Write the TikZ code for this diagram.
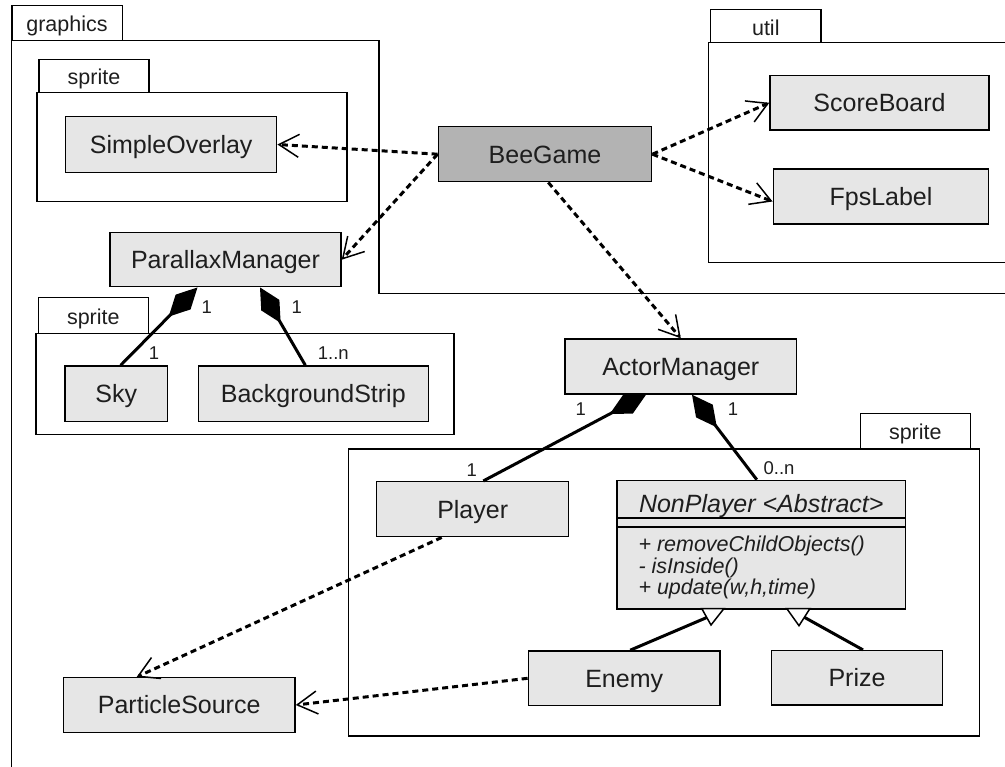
\documentclass[tikz,border=0pt]{standalone}
\usepackage{fontspec}
\setmainfont{Liberation Sans}
\usetikzlibrary{arrows.meta,calc}
\definecolor{boxfill}{HTML}{E6E6E6}
\definecolor{beefill}{HTML}{B3B3B3}
\definecolor{txt}{HTML}{1E1E1E}
\begin{document}
\begin{tikzpicture}[x=1pt,y=-1pt,
  cls/.style={draw=black, line width=1.5pt, fill=boxfill, inner sep=0pt, text=txt, text height=17.9pt, text depth=0pt, font=\fontsize{25}{30}\selectfont},
  pkg/.style={draw=black, line width=1.5pt},
  tablbl/.style={inner sep=0pt, anchor=base, text=txt, font=\fontsize{21.5}{25}\selectfont},
  mult/.style={inner sep=0pt, text=txt, text height=13.2pt, text depth=0pt, font=\fontsize{18.5}{22}\selectfont},
  oper/.style={inner sep=0pt, anchor=base west, text=txt, font=\fontsize{21.5}{22}\selectfont\itshape},
  dep/.style={line width=3pt, dash pattern=on 6pt off 4pt, -{Straight Barb[length=20pt,width=23pt,line width=1.5pt]}},
  comp/.style={line width=3pt, -{Diamond[length=41pt,width=21pt]}},
  gen/.style={line width=3pt},
  gentri/.style={draw=black, line width=1.5pt, fill=white, line join=miter},
]
\useasboundingbox (0,0) rectangle (1005,767);

% packages
\draw[pkg] (12,5.7) rectangle (122.3,40.7);
\node[tablbl] (lgraphics) at (67,31.5) {graphics};
\draw[pkg] (11.5,767) -- (11.5,40.7) -- (379,40.7) -- (379,293.3) -- (1005,293.3);

\draw[pkg] (39,59.3) rectangle (149,92.3);
\node[tablbl] (lsprite1) at (94,84.5) {sprite};
\draw[pkg] (37,92.3) rectangle (347,201.7);

\draw[pkg] (710.7,9.3) rectangle (821,42.7);
\node[tablbl] (lutil) at (765.8,35.5) {util};
\draw[pkg] (1005,42.7) -- (708.7,42.7) -- (708.7,262.3) -- (1005,262.3);

\draw[pkg] (38.3,297.7) rectangle (148.3,333.3);
\node[tablbl] (lsprite2) at (93.3,324.5) {sprite};
\draw[pkg] (36,333.3) rectangle (454,434.3);

\draw[pkg] (860.3,413.3) rectangle (970.3,449);
\node[tablbl] (lsprite3) at (915.3,440) {sprite};
\draw[pkg] (348.3,449) rectangle (979.3,736);

% classes
\node[cls, minimum width=211pt, minimum height=55.6pt] (so) at (171.2,144.5) {SimpleOverlay};
\node[cls, fill=beefill, minimum width=213.4pt, minimum height=55pt] (bg) at (545,154.2) {BeeGame};
\node[cls, minimum width=219pt, minimum height=54.3pt] (sb) at (879.5,102.8) {ScoreBoard};
\node[cls, minimum width=215.4pt, minimum height=55pt] (fps) at (881,196.5) {FpsLabel};
\node[cls, minimum width=231pt, minimum height=54pt] (pm) at (225.5,259.7) {ParallaxManager};
\node[cls, minimum width=102.3pt, minimum height=55.7pt] (sky) at (116.2,393.8) {Sky};
\node[cls, minimum width=230pt, minimum height=55.7pt] (bs) at (313.3,393.8) {BackgroundStrip};
\node[cls, minimum width=231.7pt, minimum height=55pt] (am) at (680.8,366.5) {ActorManager};
\node[cls, minimum width=192pt, minimum height=55pt] (pl) at (472.7,509.2) {Player};
\node[cls, minimum width=288.7pt, minimum height=128.5pt] (np) at (761.3,544.7) {};
\node[inner sep=0pt, text=txt, text height=17.9pt, text depth=0pt, font=\fontsize{25}{30}\selectfont\itshape] (nptitle) at (761.3,503.3) {NonPlayer <Abstract>};
\draw[line width=1.5pt] ($(np.north west)+(0,38.5)$) -- ($(np.north east)+(0,38.5)$);
\draw[line width=1.5pt] ($(np.north west)+(0,47.2)$) -- ($(np.north east)+(0,47.2)$);
\node[oper] (np1) at (638.3,551.5) {+ removeChildObjects()};
\node[oper] (np2) at (638.3,573.2) {- isInside()};
\node[oper] (np3) at (638.3,594.9) {+ update(w,h,time)};
\node[cls, minimum width=191.7pt, minimum height=54.7pt] (en) at (624.2,678.3) {Enemy};
\node[cls, minimum width=170.6pt, minimum height=54.3pt] (pr) at (857,677.8) {Prize};
\node[cls, minimum width=231.7pt, minimum height=54.6pt] (ps) at (179.2,705) {ParticleSource};

% dependencies
\draw[dep] (bg.west) -- (so.east);
\draw[dep] (bg.west) -- (pm.east);
\draw[dep] (bg.east) -- (sb.west);
\draw[dep] (bg.east) -- ([yshift=-5pt]fps.west);
\draw[dep] ([xshift=3.3pt]bg.south) -- (am.north);
\draw[dep] ([xshift=-31pt]pl.south) -- ([xshift=-42.5pt]ps.north);
\draw[dep] (en.west) -- (ps.east);

% compositions
\draw[comp] ([xshift=4.5pt]sky.north) -- ([xshift=-28pt]pm.south);
\draw[comp] ([xshift=-8pt]bs.north) -- ([xshift=34.5pt]pm.south);
\draw[comp] ([xshift=10.6pt]pl.north) -- ([xshift=-34.8pt]am.south);
\draw[comp] ([xshift=-4.5pt]np.north) -- ([xshift=11.2pt]am.south);

\node[mult] (m1) at (206.7,306.7) {1};
\node[mult] (m2) at (154,353.3) {1};
\node[mult] (m3) at (296.7,306.7) {1};
\node[mult] (m4) at (333.3,353.3) {1..n};
\node[mult] (m5) at (580.7,409.3) {1};
\node[mult] (m6) at (471.7,470) {1};
\node[mult] (m7) at (733,409.3) {1};
\node[mult] (m8) at (779,467.7) {0..n};

% generalizations
\coordinate (g1) at (708,617);
\coordinate (g2) at (803.3,616.7);
\draw[gen] ([xshift=6pt]en.north) -- (g1);
\draw[gen] ([xshift=6pt]pr.north) -- (g2);
\draw[gentri] (701.7,608.5) -- (724,608.5) -- (711,625) -- cycle;
\draw[gentri] (786.7,608.5) -- (810,608.5) -- (799,625.7) -- cycle;
\end{tikzpicture}
\end{document}
